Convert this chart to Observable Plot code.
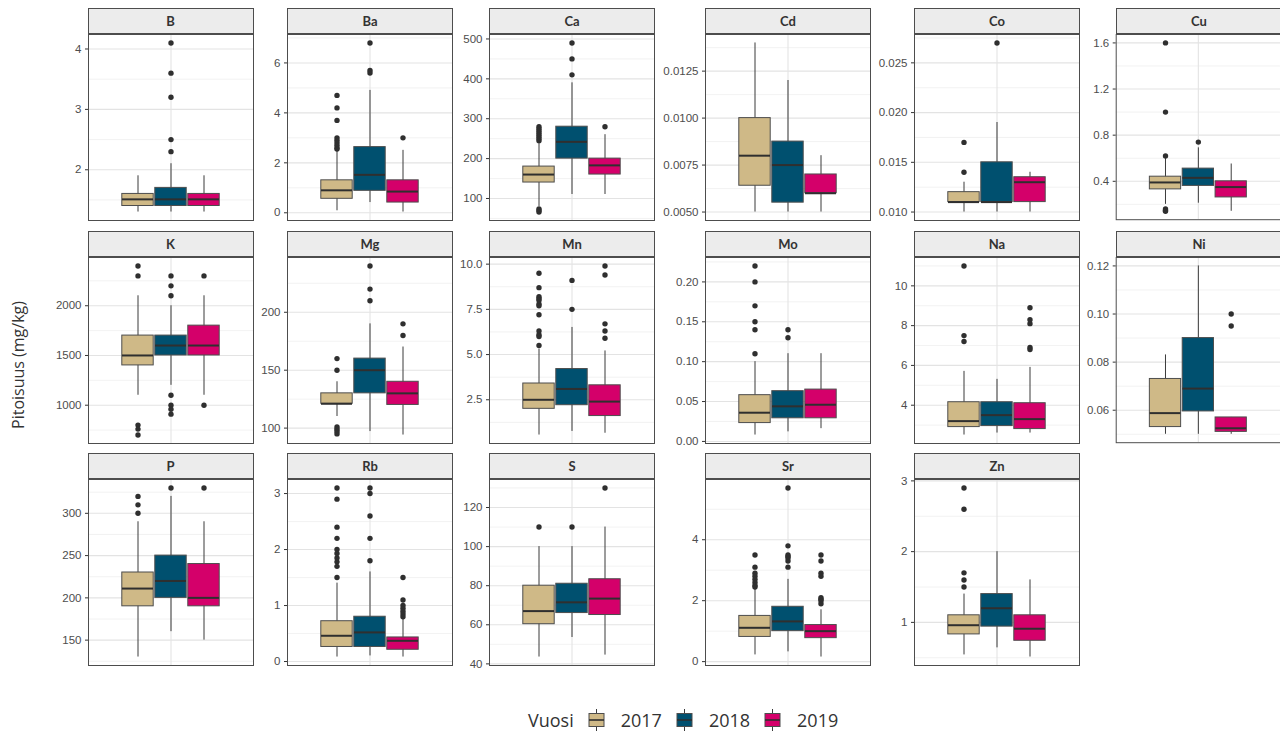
<!DOCTYPE html>
<html><head><meta charset="utf-8">
<script src="https://cdn.jsdelivr.net/npm/d3@7"></script>
<script src="https://cdn.jsdelivr.net/npm/@observablehq/plot@0.6"></script>
<style>
body{margin:0;background:#fff;}
#chart{position:relative;width:1280px;height:731px;overflow:hidden;}
.strip{position:absolute;box-sizing:border-box;height:26px;width:166px;background:#ececec;border:1px solid #4d4d4d;font-family:Lato,"DejaVu Sans",sans-serif;font-weight:bold;font-size:13px;color:#333;text-align:center;line-height:24px;}
.panel{position:absolute;}
.panel svg text{font-family:"Liberation Sans",Arial,sans-serif !important;font-size:11.5px !important;}
.ytitle{position:absolute;left:18px;top:365px;transform:translate(-50%,-50%) rotate(-90deg);font-family:"Open Sans",sans-serif;font-size:16px;color:#333;white-space:nowrap;}
.legend{position:absolute;top:708px;left:528px;display:flex;align-items:center;font-family:"Open Sans",sans-serif;font-size:18px;color:#333;}
.legend .key{display:inline-block;margin-left:14px;margin-right:16px;}
</style></head>
<body>
<div id="chart"></div>
<script>
const elements = ["B","Ba","Ca","Cd","Co","Cu","K","Mg","Mn","Mo","Na","Ni","P","Rb","S","Sr","Zn"];
const years = ["2017","2018","2019"];
const yearColors = ["#cfb987","#00506f","#d4006a"];

const whiskerLow = [
 [1.3,1.3,1.3],[0.08,0.41,0.03],[80,110,110],[0.005,0.005,0.005],[0.010,0.010,0.010],[0.20,0.21,0.14],
 [1100,1200,1100],[110,97,94],[0.55,0.75,0.65],[0.008,0.012,0.016],[2.5,2.6,2.6],[0.050,0.050,0.050],
 [130,160,150],[0.08,0.10,0.08],[43.5,53.5,44.5],[0.22,0.32,0.15],[0.54,0.64,0.51]];
const q1 = [
 [1.4,1.4,1.4],[0.56,0.88,0.41],[140,200,160],[0.0064,0.0055,0.006],[0.011,0.011,0.011],[0.33,0.36,0.26],
 [1400,1500,1500],[121,130,120],[2.0,2.2,1.6],[0.023,0.029,0.029],[2.9,2.95,2.8],[0.053,0.0595,0.051],
 [190,200,190],[0.26,0.26,0.21],[60.3,66,65],[0.81,1.0,0.77],[0.83,0.94,0.74]];
const median = [
 [1.51,1.51,1.51],[0.9,1.52,0.85],[160,242,183],[0.008,0.0075,0.006],[0.011,0.011,0.013],[0.39,0.43,0.35],
 [1500,1600,1600],[121,150,130],[2.5,3.1,2.4],[0.036,0.044,0.046],[3.2,3.5,3.3],[0.0588,0.069,0.0525],
 [211,220,200],[0.46,0.52,0.37],[67,71.5,73.4],[1.11,1.32,1.0],[0.96,1.2,0.91]];
const q3 = [
 [1.6,1.7,1.6],[1.3,2.63,1.3],[180,280,200],[0.01,0.00875,0.007],[0.012,0.015,0.0135],[0.44,0.51,0.40],
 [1700,1700,1800],[130,160,140],[3.4,4.2,3.3],[0.058,0.063,0.065],[4.15,4.15,4.1],[0.073,0.09,0.057],
 [230,250,240],[0.72,0.8,0.43],[80,81,83.3],[1.5,1.8,1.2],[1.1,1.4,1.1]];
const whiskerHigh = [
 [1.9,2.1,1.9],[2.5,4.9,2.5],[240,390,260],[0.014,0.012,0.008],[0.013,0.019,0.014],[0.6,0.69,0.55],
 [2100,2000,2100],[140,190,170],[5.3,6.5,5.2],[0.10,0.11,0.11],[5.7,5.3,5.9],[0.083,0.12,0.057],
 [290,320,290],[1.4,1.6,0.76],[100,100,110],[2.4,2.7,1.7],[1.4,2.0,1.6]];
const outliers = [
 [[],[4.1,3.6,3.2,2.5,2.3],[]],
 [[4.7,4.2,3.7,3.0,2.9,2.8,2.7,2.6,2.55],[6.8,5.7,5.6],[3.0]],
 [[280,275,270,265,260,255,250,245,74,70,66],[490,450,410],[280]],
 [[],[],[]],
 [[0.017,0.014],[0.027],[]],
 [[1.6,1.0,0.62,0.16,0.15,0.14],[0.74],[]],
 [[2400,2300,800,760,700],[2300,2200,2100,1100,1000,960,910],[2300,1000]],
 [[160,150,101,99,97,95],[240,220,210],[190,180]],
 [[9.5,8.7,8.2,8.1,8.0,7.8,7.7,7.2,6.3,6.1,6.0,5.5],[9.1,7.5],[9.9,9.4,6.7,6.3,5.9]],
 [[0.22,0.20,0.17,0.15,0.14,0.11],[0.14,0.13],[]],
 [[11,7.5,7.2],[],[8.9,8.3,8.1,6.9,6.8]],
 [[],[],[0.10,0.095]],
 [[320,310,300],[330],[330]],
 [[3.1,2.9,2.4,2.2,2.0,1.93,1.85,1.78,1.7,1.5],[3.1,3.0,2.6,2.2,1.8],[1.5,1.1,1.0,0.95,0.9,0.85,0.8]],
 [[110],[110],[130]],
 [[3.5,3.1,2.9,2.8,2.7,2.6,2.5,2.45],[5.7,3.8,3.5,3.45,3.4,3.3,3.1],[3.5,3.3,2.9,2.8,2.1,2.05,2.0,1.9]],
 [[2.9,2.6,1.7,1.6,1.5],[],[]]];
const tickLabels = [
 ["2","3","4"],["0","2","4","6"],["100","200","300","400","500"],["0.0050","0.0075","0.0100","0.0125"],
 ["0.010","0.015","0.020","0.025"],["0.4","0.8","1.2","1.6"],["1000","1500","2000"],["100","150","200"],
 ["2.5","5.0","7.5","10.0"],["0.00","0.05","0.10","0.15","0.20"],["4","6","8","10"],["0.06","0.08","0.10","0.12"],
 ["150","200","250","300"],["0","1","2","3"],["40","60","80","100","120"],["0","2","4"],["1","2","3"]];
const yTitle = "Pitoisuus (mg/kg)";
const legendTitle = "Vuosi";

// layout
const colLeft = [87.5, 287, 489, 705, 914, 1116];
const rowTop = [33.5, 256.5, 478.5];
const panelW = 165, panelH = 186, ML = 70;
const chart = document.getElementById("chart");

elements.forEach((el, i) => {
  const col = i % 6, row = Math.floor(i / 6);
  const rows = years.map((yr, j) => ({year: yr, lo: whiskerLow[i][j], q1: q1[i][j], med: median[i][j], q3: q3[i][j], hi: whiskerHigh[i][j]}));
  const outs = years.flatMap((yr, j) => outliers[i][j].map(v => ({year: yr, v})));
  const all = [...rows.flatMap(r => [r.lo, r.hi]), ...outs.map(o => o.v)];
  const [mn, mx] = d3.extent(all);
  const pad = (mx - mn) * 0.05;
  const domain = [mn - pad, mx + pad];
  const ticks = tickLabels[i].map(Number);
  const lab = new Map(ticks.map((t, k) => [t, tickLabels[i][k]]));
  const step = ticks[1] - ticks[0];
  const minor = d3.range(ticks.length + 1).map(k => ticks[0] - step / 2 + k * step).filter(v => v >= domain[0] && v <= domain[1]);
  const majors = ticks.filter(v => v >= domain[0] && v <= domain[1]);

  const plot = Plot.plot({
    width: ML + panelW, height: panelH,
    marginLeft: ML, marginRight: 0, marginTop: 0, marginBottom: 0,
    style: {background: "transparent", overflow: "visible", fontFamily: "'Liberation Sans', Arial, sans-serif", fontSize: "11.5px"},
    x: {type: "band", domain: years, range: [ML + 32.7, ML + 132.3], padding: 0, axis: null},
    y: {domain},
    color: {domain: years, range: yearColors},
    marks: [
      Plot.ruleY(minor, {stroke: "#efefef", strokeWidth: 0.8}),
      Plot.ruleY(majors, {stroke: "#e3e3e3", strokeWidth: 1.1}),
      Plot.ruleX([years[1]], {stroke: "#e3e3e3", strokeWidth: 1.1}),
      Plot.ruleX(rows, {x: "year", y1: "lo", y2: "hi", stroke: "#3a3a3a", strokeWidth: 1}),
      Plot.barY(rows, {x: "year", y1: "q1", y2: "q3", fill: "year", stroke: "#4d4d4d", strokeWidth: 1, insetLeft: 0.8, insetRight: 0.8}),
      Plot.tickY(rows, {x: "year", y: "med", stroke: "#2f2f2f", strokeWidth: 2, inset: 1}),
      Plot.dot(outs, {x: "year", y: "v", r: 2.7, fill: "#2f2f2f", stroke: "none"}),
      Plot.axisY({ticks: majors, tickFormat: d => lab.get(d), tickSize: 3, tickPadding: 4, fontSize: 11.5, color: "#4d4d4d", stroke: "#333", label: null}),
      Plot.frame({stroke: "#4d4d4d", strokeWidth: 1})
    ]
  });
  const wrap = document.createElement("div");
  wrap.className = "panel";
  wrap.style.left = (colLeft[col] - ML) + "px";
  wrap.style.top = rowTop[row] + "px";
  wrap.appendChild(plot);
  chart.appendChild(wrap);

  const strip = document.createElement("div");
  strip.className = "strip";
  strip.style.left = colLeft[col] + "px";
  strip.style.top = (rowTop[row] - 25.5) + "px";
  strip.textContent = el;
  chart.appendChild(strip);
});

const yt = document.createElement("div");
yt.className = "ytitle";
yt.textContent = yTitle;
chart.appendChild(yt);

const leg = document.createElement("div");
leg.className = "legend";
const lt = document.createElement("span");
lt.textContent = legendTitle;
leg.appendChild(lt);
years.forEach((yr, j) => {
  const ns = "http://www.w3.org/2000/svg";
  const svg = document.createElementNS(ns, "svg");
  svg.setAttribute("width", 17); svg.setAttribute("height", 22);
  svg.setAttribute("class", "key");
  svg.innerHTML = `<line x1="8.5" x2="8.5" y1="0" y2="22" stroke="#3a3a3a"/>
    <rect x="1" y="4.5" width="15" height="13" fill="${yearColors[j]}" stroke="#4d4d4d"/>
    <line x1="1" x2="16" y1="11" y2="11" stroke="#2f2f2f" stroke-width="1.6"/>`;
  leg.appendChild(svg);
  const t = document.createElement("span");
  t.textContent = yr;
  leg.appendChild(t);
});
chart.appendChild(leg);
</script>
</body></html>
